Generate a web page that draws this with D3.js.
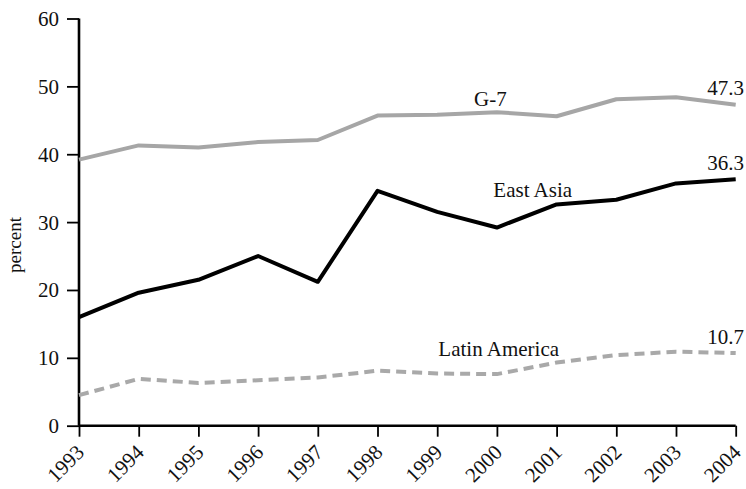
<!DOCTYPE html>
<html><head><meta charset="utf-8">
<script src="https://cdn.jsdelivr.net/npm/d3@7"></script>
<style>body{margin:0;background:#fff}svg{display:block}text{font-family:"Liberation Serif","Times New Roman",serif;fill:#111}</style>
</head><body><svg id="c" width="746" height="489"></svg>
<script>
const years = [1993,1994,1995,1996,1997,1998,1999,2000,2001,2002,2003,2004];
const g7 = [39.2,41.3,41.0,41.8,42.1,45.7,45.8,46.2,45.6,48.1,48.4,47.3];
const eastAsia = [16.0,19.6,21.5,25.0,21.2,34.6,31.5,29.2,32.6,33.3,35.7,36.3];
const latinAmerica = [4.5,6.9,6.3,6.7,7.1,8.1,7.7,7.6,9.3,10.4,10.9,10.7];
const yTicks = [0,10,20,30,40,50,60];
const seriesNames = ["G-7","East Asia","Latin America"];
const endLabels = ["47.3","36.3","10.7"];

const svg = d3.select("#c");
const FONT = '"Liberation Serif","Times New Roman",serif';
const L=79, R=735.7, T=18.5, B=425.7;
const x = d3.scalePoint().domain(years).range([L,R]);
const y = d3.scaleLinear().domain([0,60]).range([B,T]);

// axes
const ya = svg.append("g").attr("transform",`translate(${L},0)`)
  .call(d3.axisLeft(y).tickValues(yTicks).tickSize(12).tickPadding(8).tickFormat(d3.format("d")))
  .attr("font-family",FONT).attr("font-size",21);
ya.select(".domain").attr("stroke","#000").attr("stroke-width",2.6).attr("d",`M0,${T}V${B}`);
ya.selectAll(".tick line").attr("stroke","#000").attr("stroke-width",1.8);
ya.selectAll(".tick text").attr("fill","#111").attr("dy","0.33em").style("font-family",FONT);

const xa = svg.append("g").attr("transform",`translate(0,${B})`)
  .call(d3.axisBottom(x).tickSize(11).tickFormat(d3.format("d")))
  .attr("font-family",FONT).attr("font-size",21);
xa.select(".domain").attr("stroke","#000").attr("stroke-width",2.6).attr("d",`M${L},0H${R}`);
xa.selectAll(".tick line").attr("stroke","#000").attr("stroke-width",1.8);
xa.selectAll(".tick text").attr("fill","#111").style("font-family",FONT)
  .attr("text-anchor","end").attr("dy",0).attr("y",0)
  .attr("transform","translate(6,28) rotate(-45)");

// y title
svg.append("text").attr("transform","translate(21,245) rotate(-90)")
  .attr("text-anchor","middle").style("font-size","19px").text("percent");

const line = d3.line().x((d,i)=>x(years[i])).y(d=>y(d));
const data = [g7, eastAsia, latinAmerica];
const colors = ["#a6a6a6","#000000","#a9a9a9"];
const dashes = [null,null,"10,6"];
data.forEach((s,k)=>{
  svg.append("path").datum(s).attr("d",line).attr("fill","none")
    .attr("stroke",colors[k]).attr("stroke-width",4)
    .attr("stroke-dasharray",dashes[k]).attr("stroke-linejoin","round");
});

// series labels
const labelPos = [[2000,47.1,-0.11],[2000,33.7,0.6],[2000,10.2,0.03]];
seriesNames.forEach((n,k)=>{
  const [yr,v,off] = labelPos[k];
  svg.append("text").attr("x",x(yr)+off*59.7).attr("y",y(v))
    .attr("text-anchor","middle").style("font-size","21px").text(n);
});
// end value labels
const lastVals=[g7[11],eastAsia[11],latinAmerica[11]];
lastVals.forEach((v,k)=>{
  svg.append("text").attr("x",744).attr("y",y(v)-9.5)
    .attr("text-anchor","end").style("font-size","21px").text(endLabels[k]);
});
</script></body></html>
